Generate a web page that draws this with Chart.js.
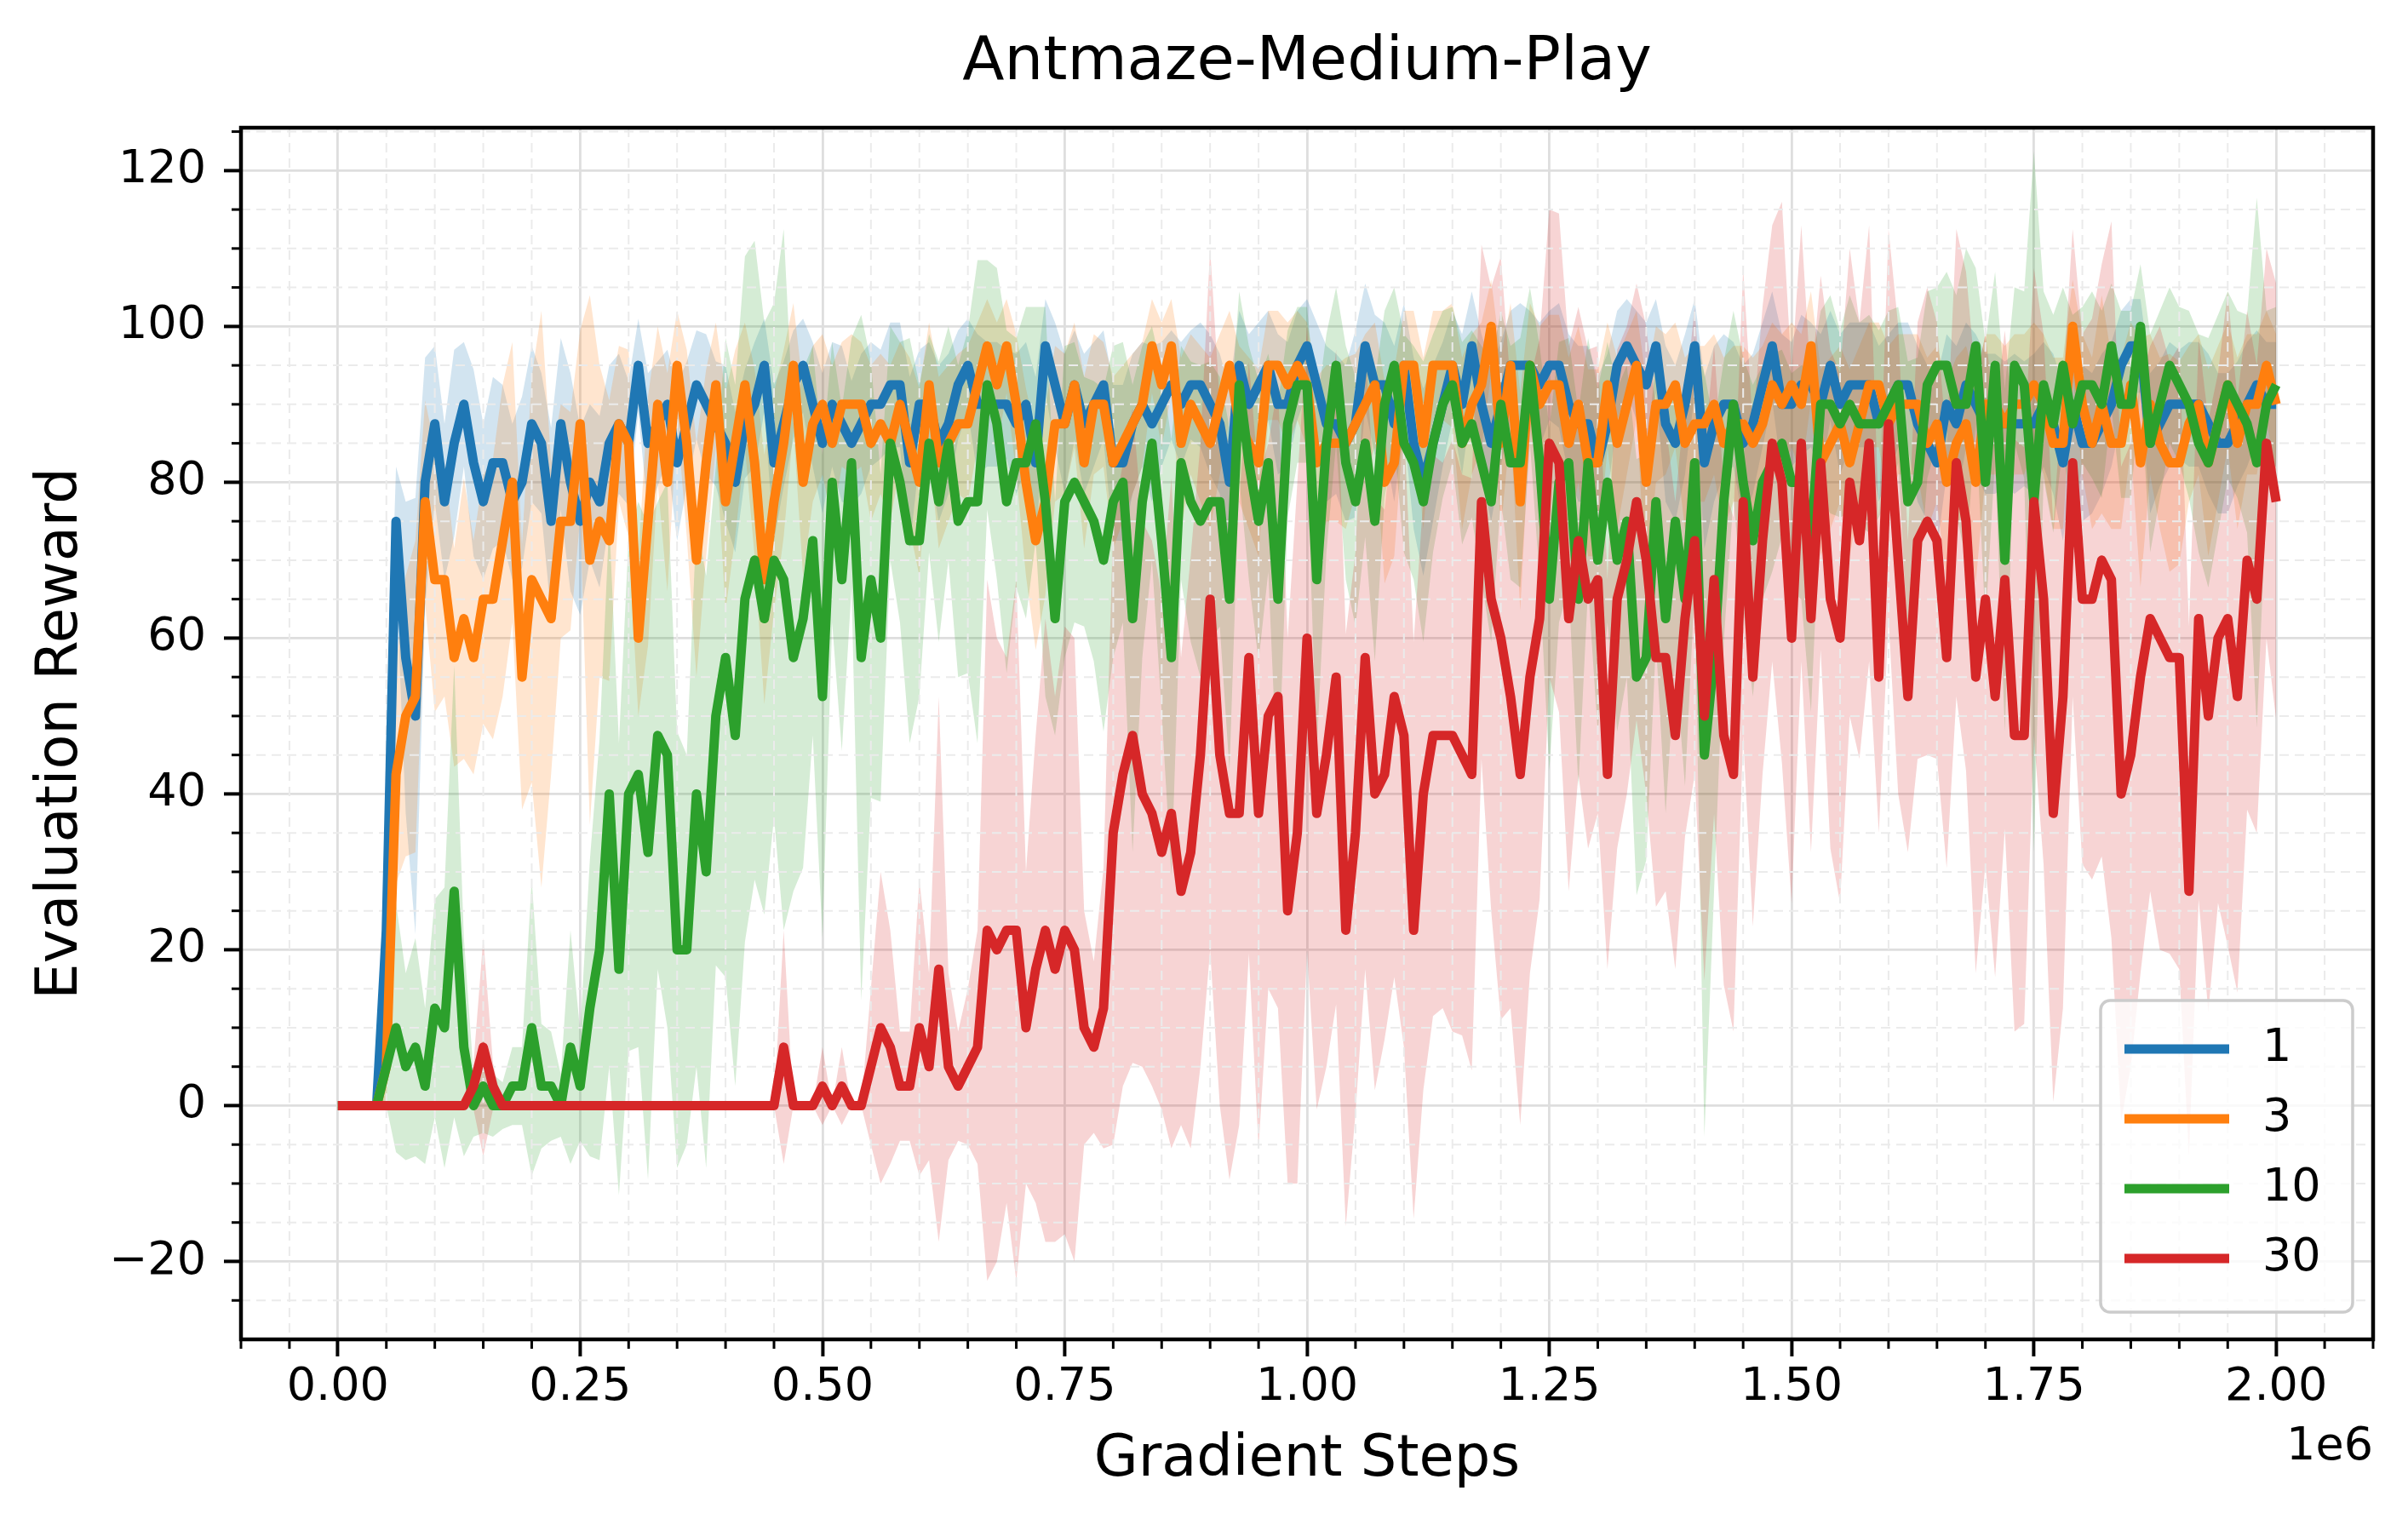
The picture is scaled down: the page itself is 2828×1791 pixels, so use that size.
<!DOCTYPE html>
<html>
<head>
<meta charset="utf-8">
<title>Antmaze-Medium-Play</title>
<script src="https://cdn.jsdelivr.net/npm/chart.js@4.4.0/dist/chart.umd.min.js"></script>
<style>
  html, body { margin: 0; padding: 0; background: #fff; }
  #wrap { width: 2828px; height: 1791px; }
</style>
</head>
<body>
<div id="wrap"><canvas id="chart" width="2828" height="1791"></canvas></div>
<script>
// evaluation every 10k gradient steps, 0 .. 2e6
const STEP = 10000;
const seriesNames = ['1', '3', '10', '30'];

const mean1 = [
  0, 0, 0, 0, 0, 22.5, 75, 57.5, 50, 80,
  87.5, 77.5, 85, 90, 82.5, 77.5, 82.5, 82.5, 77.5, 80,
  87.5, 85, 75, 87.5, 80, 75, 80, 77.5, 85, 87.5,
  85, 95, 85, 87.5, 90, 82.5, 87.5, 92.5, 90, 87.5,
  85, 80, 87.5, 90, 95, 82.5, 87.5, 92.5, 95, 90,
  85, 90, 87.5, 85, 87.5, 90, 90, 92.5, 92.5, 82.5,
  90, 90, 85, 87.5, 92.5, 95, 90, 90, 90, 90,
  87.5, 90, 82.5, 97.5, 92.5, 87.5, 92.5, 87.5, 90, 92.5,
  82.5, 82.5, 87.5, 90, 87.5, 90, 92.5, 90, 92.5, 92.5,
  90, 87.5, 80, 95, 90, 92.5, 95, 90, 90, 95,
  97.5, 92.5, 87.5, 87.5, 85, 87.5, 97.5, 92.5, 92.5, 87.5,
  95, 85, 80, 85, 90, 95, 90, 97.5, 90, 85,
  90, 95, 95, 95, 92.5, 95, 95, 90, 87.5, 87.5,
  82.5, 87.5, 95, 97.5, 95, 92.5, 97.5, 87.5, 85, 90,
  97.5, 82.5, 87.5, 90, 90, 85, 87.5, 92.5, 97.5, 90,
  90, 92.5, 92.5, 90, 95, 90, 92.5, 92.5, 92.5, 87.5,
  90, 92.5, 92.5, 87.5, 85, 82.5, 90, 87.5, 92.5, 90,
  87.5, 87.5, 87.5, 87.5, 87.5, 87.5, 90, 87.5, 82.5, 90,
  85, 85, 87.5, 90, 95, 97.5, 97.5, 85, 87.5, 90,
  90, 90, 90, 87.5, 85, 85, 87.5, 90, 92.5, 90,
  90
];
const std1 = [
  0, 0, 0, 0, 0, 20, 7, 20, 28, 16,
  10, 10, 12, 8, 12, 10, 11, 10, 10, 11,
  10, 9, 12, 11, 14, 12, 10, 11, 10, 9,
  8, 6, 9, 8, 7, 10, 8, 7, 9, 8,
  10, 9, 7, 8, 6, 10, 8, 7, 6, 8,
  9, 8, 10, 8, 9, 8, 7, 8, 8, 11,
  7, 8, 10, 9, 7, 6, 9, 8, 8, 7,
  9, 8, 11, 6, 8, 9, 7, 9, 8, 7,
  10, 10, 9, 8, 10, 8, 7, 8, 7, 8,
  9, 9, 12, 7, 9, 8, 7, 9, 8, 7,
  6, 8, 10, 9, 10, 12, 8, 9, 8, 10,
  8, 11, 12, 10, 8, 7, 9, 7, 9, 10,
  8, 7, 8, 7, 8, 7, 8, 9, 10, 10,
  11, 9, 7, 6, 7, 8, 6, 10, 10, 9,
  6, 11, 10, 9, 8, 10, 9, 8, 7, 9,
  8, 9, 8, 9, 7, 9, 8, 8, 8, 10,
  9, 8, 8, 10, 10, 11, 9, 10, 8, 9,
  9, 9, 8, 9, 8, 9, 8, 9, 10, 8,
  10, 9, 9, 8, 7, 6, 6, 9, 8, 8,
  7, 8, 8, 9, 9, 9, 8, 8, 7, 8,
  8
];

const mean3 = [
  0, 0, 0, 0, 0, 5, 42.5, 50, 52.5, 77.5,
  67.5, 67.5, 57.5, 62.5, 57.5, 65, 65, 72.5, 80, 55,
  67.5, 65, 62.5, 75, 75, 87.5, 70, 75, 72.5, 87.5,
  85, 60, 75, 90, 80, 95, 85, 70, 82.5, 92.5,
  77.5, 85, 92.5, 82.5, 67.5, 77.5, 85, 95, 80, 87.5,
  90, 85, 90, 90, 90, 85, 87.5, 85, 90, 85,
  80, 92.5, 82.5, 85, 87.5, 87.5, 92.5, 97.5, 92.5, 97.5,
  90, 80, 72.5, 77.5, 87.5, 87.5, 92.5, 82.5, 90, 90,
  82.5, 85, 87.5, 90, 97.5, 92.5, 97.5, 85, 90, 87.5,
  85, 90, 95, 87.5, 85, 82.5, 95, 95, 92.5, 95,
  92.5, 82.5, 85, 85, 85, 87.5, 90, 92.5, 80, 82.5,
  95, 95, 85, 95, 95, 95, 85, 90, 92.5, 100,
  85, 95, 77.5, 95, 90, 92.5, 92.5, 85, 90, 82.5,
  82.5, 92.5, 85, 90, 95, 80, 90, 90, 92.5, 85,
  87.5, 87.5, 90, 85, 87.5, 87.5, 85, 87.5, 92.5, 90,
  92.5, 90, 97.5, 82.5, 85, 87.5, 82.5, 87.5, 92.5, 92.5,
  87.5, 90, 90, 90, 85, 87.5, 80, 85, 87.5, 80,
  90, 90, 87.5, 90, 90, 92.5, 90, 85, 85, 100,
  90, 85, 90, 85, 85, 92.5, 82.5, 90, 85, 82.5,
  82.5, 87.5, 90, 82.5, 87.5, 92.5, 85, 90, 90, 95,
  90
];
const std3 = [
  0, 0, 0, 0, 0, 5, 14, 18, 20, 13,
  17, 15, 14, 18, 15, 16, 18, 20, 18, 17,
  26, 37, 20, 15, 14, 12, 34, 20, 18, 10,
  12, 10, 16, 10, 14, 7, 12, 15, 12, 8,
  14, 12, 8, 12, 16, 14, 12, 8, 12, 10,
  9, 10, 8, 9, 8, 10, 9, 10, 8, 11,
  12, 8, 11, 10, 9, 10, 8, 6, 8, 6,
  9, 12, 14, 12, 10, 9, 8, 11, 9, 8,
  11, 10, 9, 8, 6, 8, 6, 11, 9, 10,
  11, 9, 7, 10, 11, 12, 7, 7, 8, 7,
  8, 11, 10, 10, 11, 9, 9, 8, 13, 12,
  7, 7, 11, 7, 7, 8, 11, 9, 8, 6,
  11, 8, 14, 8, 10, 9, 9, 11, 10, 12,
  12, 8, 11, 9, 7, 13, 10, 9, 8, 11,
  10, 10, 9, 11, 10, 10, 11, 10, 8, 9,
  8, 9, 7, 12, 11, 10, 12, 10, 8, 8,
  10, 9, 9, 9, 11, 10, 13, 11, 10, 13,
  9, 9, 10, 9, 9, 8, 9, 11, 11, 6,
  9, 11, 14, 11, 11, 8, 16, 9, 11, 14,
  13, 10, 9, 12, 10, 8, 11, 9, 9, 7,
  9
];

const mean10 = [
  0, 0, 0, 0, 0, 5, 10, 5, 7.5, 2.5,
  12.5, 10, 27.5, 7.5, 0, 2.5, 0, 0, 2.5, 2.5,
  10, 2.5, 2.5, 0, 7.5, 2.5, 12.5, 20, 40, 17.5,
  40, 42.5, 32.5, 47.5, 45, 20, 20, 40, 30, 50,
  57.5, 47.5, 65, 70, 62.5, 70, 67.5, 57.5, 62.5, 72.5,
  52.5, 80, 67.5, 82.5, 57.5, 67.5, 60, 85, 80, 72.5,
  72.5, 85, 77.5, 85, 75, 77.5, 77.5, 92.5, 87.5, 77.5,
  82.5, 82.5, 87.5, 77.5, 62.5, 77.5, 80, 77.5, 75, 70,
  77.5, 80, 62.5, 77.5, 85, 72.5, 57.5, 82.5, 77.5, 75,
  77.5, 77.5, 65, 92.5, 82.5, 75, 82.5, 65, 87.5, 92.5,
  92.5, 67.5, 85, 95, 82.5, 77.5, 85, 75, 90, 95,
  85, 82.5, 77.5, 85, 90, 92.5, 85, 87.5, 82.5, 77.5,
  90, 82.5, 82.5, 95, 82.5, 65, 80, 82.5, 65, 82.5,
  70, 80, 70, 75, 55, 57.5, 77.5, 62.5, 75, 65,
  82.5, 45, 57.5, 77.5, 90, 80, 72.5, 80, 82.5, 85,
  80, 80, 72.5, 90, 90, 87.5, 90, 87.5, 87.5, 87.5,
  90, 92.5, 77.5, 80, 92.5, 95, 95, 90, 90, 97.5,
  80, 95, 70, 95, 92.5, 77.5, 92.5, 87.5, 95, 87.5,
  92.5, 92.5, 90, 97.5, 90, 90, 100, 85, 90, 95,
  92.5, 90, 85, 82.5, 87.5, 92.5, 90, 87.5, 82.5, 90,
  92.5
];
const std10 = [
  0, 0, 0, 0, 0, 5, 16, 12, 14, 10,
  14, 18, 29, 14, 4, 6, 4, 3, 5, 5,
  19, 8, 7, 4, 15, 7, 19, 27, 35, 29,
  33, 35, 42, 30, 35, 28, 25, 35, 38, 32,
  41, 45, 44, 41, 38, 33, 45, 30, 32, 25,
  31, 18, 22, 16, 44, 28, 21, 15, 18, 26,
  20, 14, 18, 15, 20, 22, 31, 16, 20, 22,
  16, 20, 15, 25, 15, 20, 18, 16, 18, 22,
  20, 18, 30, 20, 15, 22, 28, 15, 18, 20,
  18, 16, 22, 12, 15, 18, 14, 25, 12, 10,
  10, 22, 14, 10, 15, 16, 12, 18, 12, 10,
  14, 15, 18, 14, 12, 10, 13, 12, 15, 18,
  12, 15, 16, 10, 15, 22, 18, 16, 24, 16,
  22, 18, 22, 20, 28, 26, 18, 25, 18, 24,
  16, 49, 30, 18, 12, 16, 20, 15, 14, 12,
  14, 15, 22, 12, 14, 12, 14, 13, 14, 12,
  12, 10, 18, 16, 12, 10, 12, 14, 20, 10,
  18, 12, 22, 10, 12, 45, 12, 14, 10, 14,
  10, 12, 12, 8, 12, 12, 8, 14, 12, 10,
  10, 12, 14, 16, 14, 12, 12, 14, 34, 12,
  10
];

const mean30 = [
  0, 0, 0, 0, 0, 0, 0, 0, 0, 0,
  0, 0, 0, 0, 2.5, 7.5, 2.5, 0, 0, 0,
  0, 0, 0, 0, 0, 0, 0, 0, 0, 0,
  0, 0, 0, 0, 0, 0, 0, 0, 0, 0,
  0, 0, 0, 0, 0, 0, 7.5, 0, 0, 0,
  2.5, 0, 2.5, 0, 0, 5, 10, 7.5, 2.5, 2.5,
  10, 5, 17.5, 5, 2.5, 5, 7.5, 22.5, 20, 22.5,
  22.5, 10, 17.5, 22.5, 17.5, 22.5, 20, 10, 7.5, 12.5,
  35, 42.5, 47.5, 40, 37.5, 32.5, 37.5, 27.5, 32.5, 45,
  65, 45, 37.5, 37.5, 57.5, 37.5, 50, 52.5, 25, 35,
  60, 37.5, 45, 55, 22.5, 35, 57.5, 40, 42.5, 52.5,
  47.5, 22.5, 40, 47.5, 47.5, 47.5, 45, 42.5, 77.5, 65,
  60, 52.5, 42.5, 55, 62.5, 85, 82.5, 62.5, 72.5, 65,
  67.5, 42.5, 65, 70, 77.5, 70, 57.5, 57.5, 47.5, 62.5,
  72.5, 50, 67.5, 47.5, 42.5, 77.5, 55, 72.5, 85, 80,
  60, 85, 62.5, 82.5, 65, 60, 80, 72.5, 85, 55,
  87.5, 70, 52.5, 72.5, 75, 72.5, 57.5, 82.5, 75, 55,
  65, 52.5, 67.5, 47.5, 47.5, 77.5, 65, 37.5, 52.5, 82.5,
  65, 65, 70, 67.5, 40, 45, 55, 62.5, 60, 57.5,
  57.5, 27.5, 62.5, 50, 60, 62.5, 52.5, 70, 65, 85,
  77.5
];
const std30 = [
  0, 0, 0, 0, 0, 0, 0, 0, 0, 0,
  0, 0, 0, 0, 3, 14, 3, 0, 0, 0,
  0, 0, 0, 0, 0, 0, 0, 0, 0, 0,
  0, 0, 0, 0, 0, 0, 0, 0, 0, 0,
  0, 0, 0, 0, 0, 0, 15, 0, 0, 0,
  5, 0, 5, 0, 0, 10, 20, 15, 7, 7,
  19, 12, 35, 12, 7, 10, 15, 45, 40, 35,
  45, 20, 30, 40, 35, 39, 40, 15, 11, 18,
  40, 40, 42, 35, 35, 33, 43, 30, 38, 40,
  45, 45, 47, 40, 38, 43, 35, 40, 35, 45,
  40, 38, 40, 42, 38, 36, 40, 38, 34, 36,
  40, 37, 38, 36, 35, 38, 36, 38, 33, 40,
  49, 40, 45, 38, 36, 30, 32, 35, 30, 32,
  30, 25, 32, 30, 28, 30, 32, 30, 30, 28,
  30, 34, 30, 32, 33, 30, 32, 30, 28, 36,
  34, 28, 30, 24, 32, 34, 30, 28, 28, 20,
  25, 30, 20, 28, 30, 28, 27, 30, 32, 38,
  34, 36, 32, 38, 37, 30, 34, 37, 40, 30,
  34, 36, 38, 46, 42, 40, 38, 35, 40, 38,
  40, 34, 36, 38, 34, 42, 38, 32, 30, 25,
  28
];

const xTicks = [0, 250000, 500000, 750000, 1000000, 1250000, 1500000, 1750000, 2000000];
const yTicks = [-20, 0, 20, 40, 60, 80, 100, 120];

const X_MIN = -100000, X_MAX = 2100000, Y_MIN = -30, Y_MAX = 125.5;

// minor ticks every 0.05e6 and every 5
const xMinor = [];
for (let v = X_MIN; v <= X_MAX; v += 50000) if (!xTicks.includes(v)) xMinor.push(v);
const yMinor = [];
for (let v = -25; v <= 125; v += 5) if (!yTicks.includes(v)) yMinor.push(v);

const FONT = 'DejaVu Sans';
const LINE_W = 11;
const colors = ['#1f77b4', '#ff7f0e', '#2ca02c', '#d62728'];
const bandColors = ['rgba(31,119,180,0.2)', 'rgba(255,127,14,0.2)', 'rgba(44,160,44,0.2)', 'rgba(214,39,40,0.2)'];
const means = [mean1, mean3, mean10, mean30];
const stds = [std1, std3, std10, std30];
const steps = mean1.map((_, i) => i * STEP);

const datasets = [];
means.forEach((m, k) => {
    datasets.push({
        label: seriesNames[k],
        data: m.map((v, i) => ({ x: steps[i], y: v })),
        borderColor: colors[k],
        borderWidth: LINE_W,
        borderJoinStyle: 'round',
        borderCapStyle: 'butt',
        pointRadius: 0,
        fill: false,
        order: 3 - k
    });
});
means.forEach((m, k) => {
    const loIdx = datasets.length;
    datasets.push({
        label: 'lo',
        data: m.map((v, i) => ({ x: steps[i], y: v - stds[k][i] })),
        borderColor: 'rgba(0,0,0,0)',
        borderWidth: 0,
        pointRadius: 0,
        fill: false,
        order: 20 + k
    });
    datasets.push({
        label: 'hi',
        data: m.map((v, i) => ({ x: steps[i], y: v + stds[k][i] })),
        borderColor: 'rgba(0,0,0,0)',
        borderWidth: 0,
        pointRadius: 0,
        backgroundColor: bandColors[k],
        fill: loIdx,
        order: 10 + (3 - k)
    });
});

// minor grid, minor ticks, frame, offset text, legend
const decorations = {
    id: 'decorations',
    beforeDatasetsDraw(chart) {
        const { ctx, chartArea: a, scales: { x, y } } = chart;
        ctx.save();
        ctx.strokeStyle = '#ebebeb';
        ctx.lineWidth = 2;
        ctx.setLineDash([11, 7]);
        xMinor.forEach(v => {
            const px = x.getPixelForValue(v);
            ctx.beginPath(); ctx.moveTo(px, a.top); ctx.lineTo(px, a.bottom); ctx.stroke();
        });
        yMinor.forEach(v => {
            const py = y.getPixelForValue(v);
            ctx.beginPath(); ctx.moveTo(a.left, py); ctx.lineTo(a.right, py); ctx.stroke();
        });
        ctx.restore();
    },
    afterDatasetsDraw(chart) {
        const { ctx, chartArea: a, scales: { x, y } } = chart;
        ctx.save();
        ctx.strokeStyle = '#000';
        ctx.lineWidth = 3;
        xMinor.forEach(v => {
            const px = x.getPixelForValue(v);
            ctx.beginPath(); ctx.moveTo(px, a.bottom); ctx.lineTo(px, a.bottom + 11); ctx.stroke();
        });
        yMinor.forEach(v => {
            const py = y.getPixelForValue(v);
            ctx.beginPath(); ctx.moveTo(a.left - 11, py); ctx.lineTo(a.left, py); ctx.stroke();
        });
        ctx.lineWidth = 4.5;
        ctx.strokeRect(a.left, a.top, a.right - a.left, a.bottom - a.top);

        // offset text of the x axis
        ctx.fillStyle = '#000';
        ctx.font = '54px "' + FONT + '"';
        ctx.textAlign = 'right';
        ctx.textBaseline = 'middle';
        ctx.fillText('1e6', a.right, 1700);

        // legend (lower right, inside the axes)
        const bx = 2467, by = 1175, bw = 296, bh = 366;
        ctx.beginPath();
        ctx.roundRect(bx, by, bw, bh, 11);
        ctx.fillStyle = 'rgba(255,255,255,0.8)';
        ctx.fill();
        ctx.strokeStyle = '#cccccc';
        ctx.lineWidth = 3.5;
        ctx.stroke();
        ctx.textAlign = 'left';
        seriesNames.forEach((name, k) => {
            const ly = 1232 + k * 82;
            ctx.beginPath();
            ctx.strokeStyle = colors[k];
            ctx.lineWidth = LINE_W;
            ctx.lineCap = 'butt';
            ctx.moveTo(2495, ly); ctx.lineTo(2618, ly);
            ctx.stroke();
            ctx.fillStyle = '#000';
            ctx.fillText(name, 2657, ly);
        });
        ctx.restore();
    }
};

new Chart(document.getElementById('chart'), {
    type: 'line',
    data: { datasets },
    plugins: [decorations],
    options: {
        responsive: false,
        devicePixelRatio: 1,
        animation: false,
        events: [],
        layout: { padding: { left: 0, right: 41, top: 0, bottom: 0 } },
        plugins: {
            legend: { display: false },
            tooltip: { enabled: false },
            filler: { drawTime: 'beforeDatasetsDraw' },
            title: {
                display: true,
                fullSize: false,
                text: 'Antmaze-Medium-Play',
                color: '#000',
                font: { family: FONT, size: 72, weight: 'normal', lineHeight: 1.2 },
                padding: { top: 31, bottom: 32.6 }
            }
        },
        scales: {
            x: {
                type: 'linear',
                min: X_MIN,
                max: X_MAX,
                bounds: 'data',
                afterBuildTicks: s => { s.ticks = xTicks.map(v => ({ value: v })); },
                afterFit: s => { s.height = 218; },
                ticks: {
                    autoSkip: false,
                    maxRotation: 0,
                    padding: 5,
                    color: '#000',
                    font: { family: FONT, size: 54, lineHeight: 1.2 },
                    callback: v => (v / 1e6).toFixed(2)
                },
                grid: { color: '#dedede', lineWidth: 2.8, tickColor: '#000', tickWidth: 4, tickLength: 20 },
                border: { display: false },
                title: {
                    display: true,
                    text: 'Gradient Steps',
                    color: '#000',
                    font: { family: FONT, size: 67, lineHeight: 1 },
                    padding: { top: 0, bottom: 42 }
                }
            },
            y: {
                type: 'linear',
                min: Y_MIN,
                max: Y_MAX,
                bounds: 'data',
                afterBuildTicks: s => { s.ticks = yTicks.map(v => ({ value: v })); },
                afterFit: s => { s.width = 283; },
                ticks: {
                    padding: 21,
                    color: '#000',
                    font: { family: FONT, size: 54, lineHeight: 1.2 },
                    callback: v => (v < 0 ? '\u2212' + Math.abs(v) : String(v))
                },
                grid: { color: '#dedede', lineWidth: 2.8, tickColor: '#000', tickWidth: 4, tickLength: 20 },
                border: { display: false },
                title: {
                    display: true,
                    text: 'Evaluation Reward',
                    color: '#000',
                    font: { family: FONT, size: 67, lineHeight: 1 },
                    padding: { top: 39, bottom: 0 }
                }
            }
        }
    }
});
</script>
</body>
</html>
